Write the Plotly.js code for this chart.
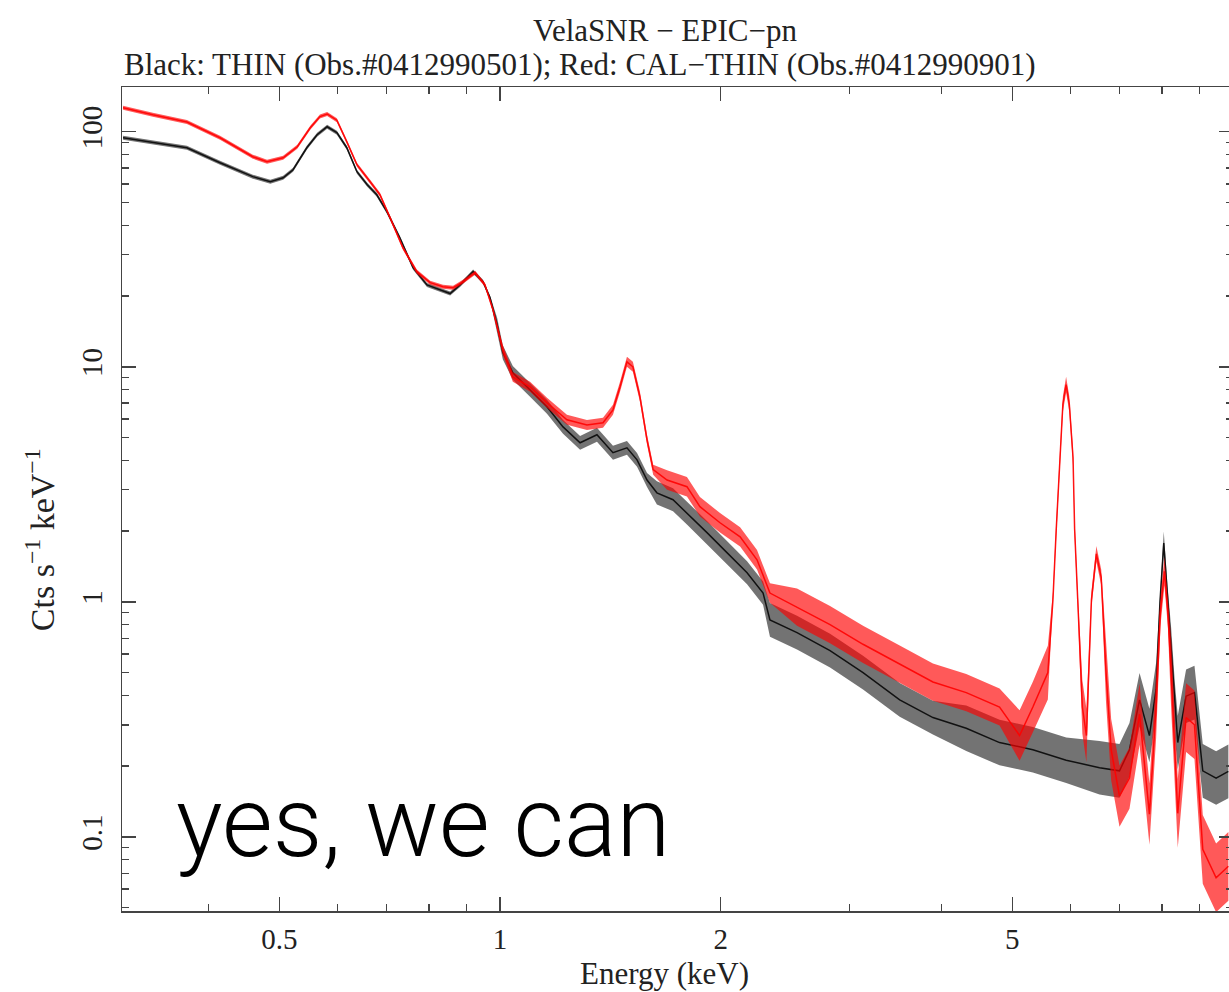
<!DOCTYPE html>
<html>
<head>
<meta charset="utf-8">
<script src="https://cdn.plot.ly/plotly-3.0.1.min.js"></script>
<style>
html,body{margin:0;padding:0;background:#fff;overflow:hidden;}
#chart{width:1233px;height:992px;}
</style>
</head>
<body>
<div id="chart"></div>
<script>
// Black: THIN (Obs.#0412990501)
const energyBlack = [0.306,0.336,0.374,0.415,0.460,0.486,0.506,0.522,0.545,0.563,0.581,0.599,0.618,0.638,0.659,0.679,0.701,0.730,0.761,0.795,0.828,0.855,0.882,0.919,0.948,0.969,0.991,1.009,1.041,1.099,1.159,1.219,1.286,1.356,1.426,1.490,1.538,1.587,1.637,1.722,1.799,1.916,2.040,2.173,2.285,2.335,2.542,2.820,3.128,3.510,3.896,4.326,4.803,5.333,5.922,6.575,7.001,7.224,7.456,7.691,7.855,7.950,8.045,8.140,8.233,8.330,8.407,8.630,8.860,9.094,9.483,9.856];
const rateBlack = [94.3,89.8,85.5,73.8,64.4,61.3,63.7,68.9,85.5,97.1,105,99.1,85.5,67.6,59.5,53.9,45.7,35.4,26.4,22.3,21.3,20.5,22.3,25.4,23.0,19.7,15.1,11.5,9.43,7.98,6.76,5.55,4.75,5.14,4.31,4.52,4.02,3.30,2.91,2.72,2.39,1.97,1.62,1.33,1.09,0.838,0.740,0.620,0.500,0.383,0.322,0.290,0.252,0.235,0.212,0.197,0.191,0.235,0.383,0.270,0.425,1.00,1.78,1.05,0.600,0.350,0.252,0.397,0.411,0.191,0.178,0.190];
const spreadBlack = [0.02,0.02,0.02,0.02,0.02,0.02,0.02,0.02,0.02,0.02,0.02,0.02,0.02,0.02,0.02,0.02,0.02,0.02,0.02,0.02,0.02,0.02,0.02,0.02,0.02,0.02,
0.07,0.07,0.07,0.07,0.07,0.07,0.07,0.07,0.07,0.07,0.07,0.07,
0.12,0.12,0.12,0.12,0.12,0.12,0.12,
0.18,0.18,0.18,0.18,0.18,0.18,
0.25,0.25,0.25,0.25,
0.30,0.30,0.30,0.30,0.30,0.30,
0.12,0.12,0.12,
0.30,0.30,0.30,0.30,0.30,0.30,0.30,0.30];

// Red: CAL-THIN (Obs.#0412990901)
const energyRed = [0.306,0.336,0.374,0.415,0.460,0.481,0.506,0.529,0.551,0.568,0.581,0.599,0.618,0.638,0.665,0.686,0.708,0.737,0.770,0.803,0.836,0.863,0.890,0.925,0.954,0.978,1.009,1.041,1.099,1.159,1.234,1.314,1.382,1.426,1.458,1.490,1.518,1.552,1.587,1.618,1.690,1.799,1.874,1.996,2.126,2.242,2.335,2.542,2.820,3.128,3.510,3.896,4.326,4.803,5.115,5.333,5.590,5.680,5.740,5.790,5.860,5.920,5.980,6.050,6.080,6.140,6.230,6.310,6.410,6.510,6.610,6.710,6.820,7.001,7.224,7.456,7.691,7.855,7.960,8.062,8.150,8.233,8.407,8.630,8.860,9.094,9.483,9.856];
const rateRed = [126.5,118,110,94.3,78.3,74.5,77.5,86.3,104,116,119,112,90.7,72.4,61.3,53.9,43.1,32.1,25.4,22.8,21.9,21.7,23.0,25.1,22.3,17.5,11.8,9.06,8.22,7.03,5.95,5.66,5.78,6.56,8.22,10.5,10.0,7.45,4.89,3.65,3.30,3.09,2.54,2.17,1.89,1.51,1.09,0.95,0.80,0.66,0.543,0.456,0.411,0.357,0.270,0.357,0.50,1.02,2.05,3.45,6.93,8.40,6.93,4.11,2.05,1.02,0.357,0.27,1.02,1.60,1.27,0.507,0.235,0.149,0.178,0.333,0.125,0.357,0.90,1.35,0.90,0.50,0.126,0.322,0.300,0.0885,0.067,0.075];
const spreadRed = [0.02,0.02,0.02,0.02,0.02,0.02,0.02,0.02,0.02,0.02,0.02,0.02,0.02,0.02,0.02,0.02,0.02,0.02,0.02,0.02,0.02,0.02,0.02,0.02,0.02,0.02,
0.05,0.05,0.05,0.05,0.05,0.05,0.05,0.05,0.05,0.05,0.05,0.05,0.05,0.05,
0.10,0.10,0.10,0.10,0.10,0.10,0.10,
0.20,0.20,0.20,0.20,0.20,0.20,0.20,
0.28,0.28,
0.30,
0.08,0.08,0.08,0.08,0.08,0.08,0.08,0.08,0.08,
0.30,0.30,
0.08,0.08,0.08,
0.35,0.35,0.35,0.35,0.35,0.35,0.35,
0.15,0.15,0.15,
0.40,0.40,0.40,0.40,0.40,0.40,0.40];

const xTickVals = [0.5,1,2,5];
const xTickText = ['0.5','1','2','5'];
const xMinorVals = [0.4,0.6,0.7,0.8,0.9,3,4,6,7,8,9];
const yTickVals = [0.1,1,10,100];
const yTickText = ['0.1','1','10','100'];
const yMinorVals = [0.05,0.06,0.07,0.08,0.09,0.2,0.3,0.4,0.5,0.6,0.7,0.8,0.9,2,3,4,5,6,7,8,9,20,30,40,50,60,70,80,90];

function band(xs, ys, sp, color) {
  const up = ys.map((v,i)=>v*(1+sp[i]));
  const lo = ys.map((v,i)=>v/(1+sp[i]));
  return {
    x: xs.concat(xs.slice().reverse()),
    y: up.concat(lo.slice().reverse()),
    type: 'scatter', mode: 'lines', fill: 'toself',
    fillcolor: color, line: {width: 0}, hoverinfo: 'skip'
  };
}

const traces = [
  band(energyBlack, rateBlack, spreadBlack, 'rgba(0,0,0,0.55)'),
  {x: energyBlack, y: rateBlack, type:'scatter', mode:'lines', name:'THIN',
   line:{color:'rgba(0,0,0,0.85)', width:1.5}},
  band(energyRed, rateRed, spreadRed, 'rgba(255,0,0,0.65)'),
  {x: energyRed, y: rateRed, type:'scatter', mode:'lines', name:'CAL-THIN',
   line:{color:'rgba(255,0,0,0.9)', width:1.5}}
];

const serifFam = 'Liberation Serif, Times New Roman, serif';
const tickFont = {family:serifFam, size:29, color:'#222'};
const titleFont = {family:serifFam, size:31, color:'#222'};
const labelFont = {family:serifFam, size:31, color:'#222'};
const yLabelFont = {family:serifFam, size:34, color:'#222'};
const axCommon = {
  type:'log', ticks:'inside', ticklen:14, tickwidth:1.5, tickcolor:'#444',
  showline:true, linecolor:'#444', linewidth:1.5, mirror:'allticks',
  showgrid:false, zeroline:false, tickfont: tickFont, tickmode:'array'
};

const layout = {
  width:1233, height:992,
  margin:{l:122, r:0, t:87, b:81},
  paper_bgcolor:'#fff', plot_bgcolor:'#fff',
  showlegend:false,
  xaxis: Object.assign({}, axCommon, {
    range:[Math.log10(0.305), Math.log10(10)],
    tickvals:xTickVals, ticktext:xTickText, ticklabelstandoff:2,
    minor:{tickvals:xMinorVals, ticks:'inside', ticklen:7, tickwidth:1.5, tickcolor:'#444', showgrid:false}
  }),
  yaxis: Object.assign({}, axCommon, {
    range:[Math.log10(0.0484), Math.log10(155)],
    tickvals:yTickVals, ticktext:yTickText, tickangle:-90, ticklabelstandoff:7,
    minor:{tickvals:yMinorVals, ticks:'inside', ticklen:7, tickwidth:1.5, tickcolor:'#444', showgrid:false}
  }),
  annotations:[
    {text:'VelaSNR − EPIC−pn', xref:'paper', yref:'paper', x:0.4896, y:1.069,
     xanchor:'center', yanchor:'middle', showarrow:false, font:titleFont},
    {text:'Black: THIN (Obs.#0412990501); Red: CAL−THIN (Obs.#0412990901)', xref:'paper', yref:'paper',
     x:0, y:1.027, xanchor:'left', yanchor:'middle', showarrow:false, font:titleFont},
    {text:'Energy (keV)', xref:'paper', yref:'paper', x:0.488, y:-0.0762,
     xanchor:'center', yanchor:'middle', showarrow:false, font:labelFont},
    {text:'Cts s<sup>−1</sup> keV<sup>−1</sup>', xref:'paper', yref:'paper', x:-0.0738, y:0.45,
     xanchor:'center', yanchor:'middle', textangle:-90, showarrow:false, font:yLabelFont},
    {text:'yes, we can', xref:'paper', yref:'paper', x:0.0465, y:0.108,
     xanchor:'left', yanchor:'middle', showarrow:false,
     font:{family:'Roboto, Liberation Sans, Arial, sans-serif', size:98, weight:300, color:'#000'}}
  ]
};

Plotly.newPlot('chart', traces, layout, {staticPlot:true, displayModeBar:false});
</script>
</body>
</html>
